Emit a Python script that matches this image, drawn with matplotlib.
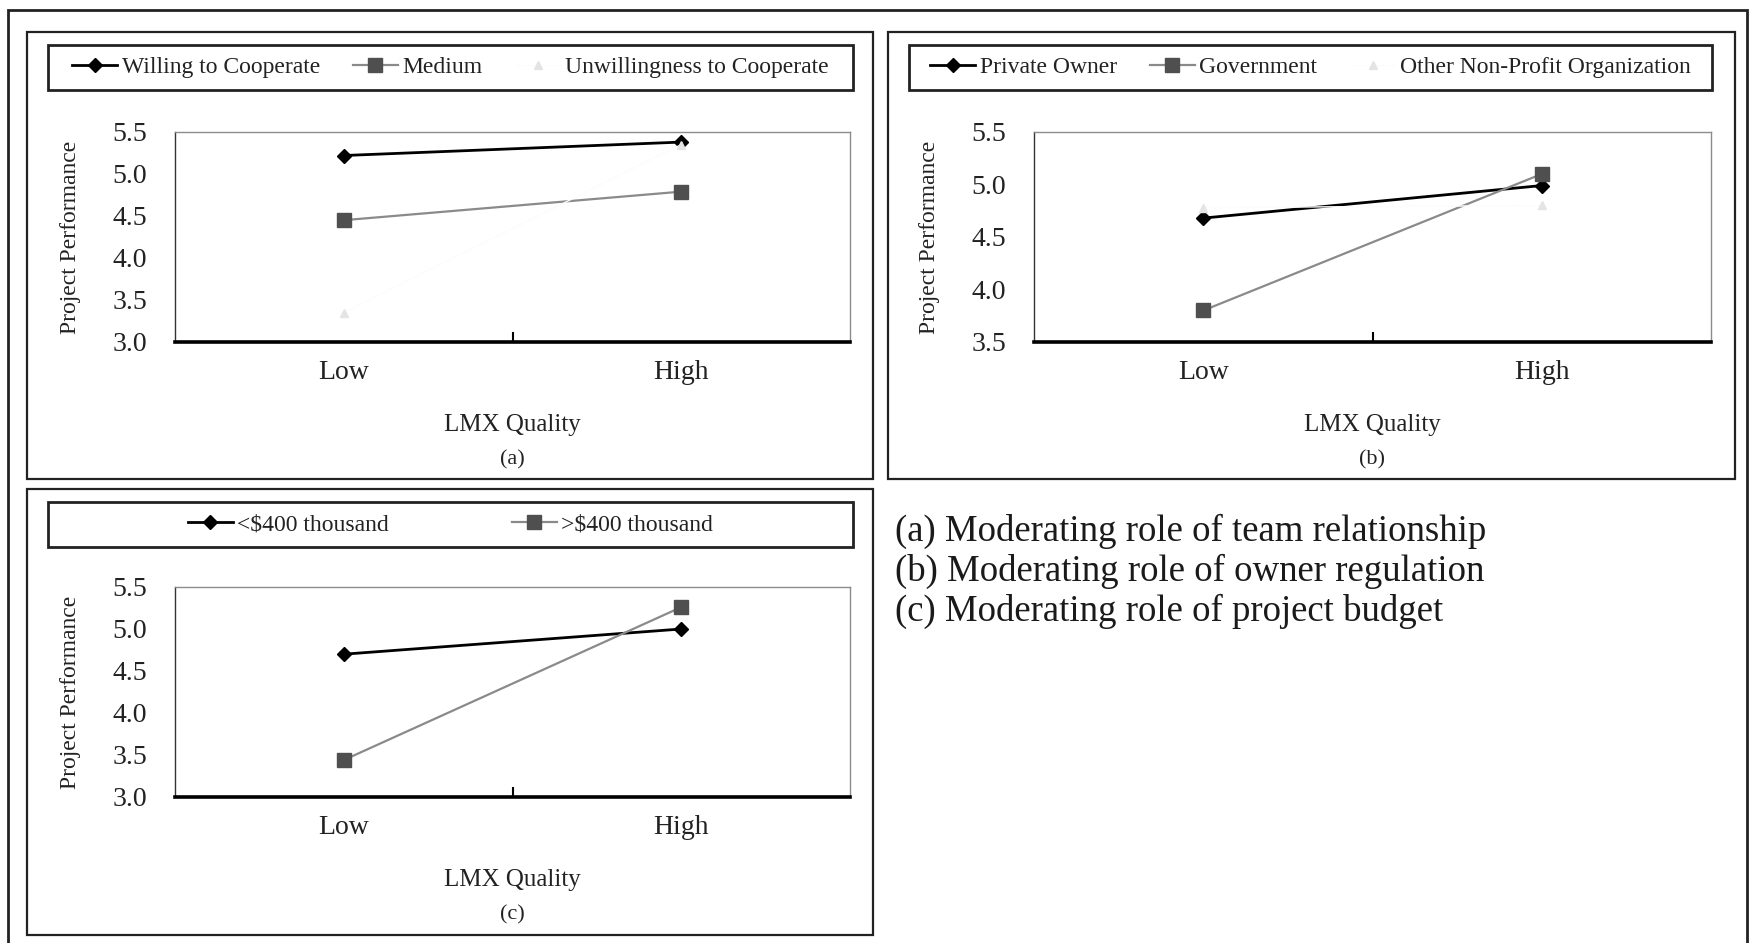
import matplotlib
matplotlib.use('Agg')
import matplotlib.pyplot as plt
from matplotlib.patches import Rectangle

plt.rcParams['font.family'] = ['Liberation Serif', 'DejaVu Serif']
plt.rcParams['text.color'] = '#222222'

# data
levels = ['Low', 'High']

team_labels = ['Willing to Cooperate', 'Medium', 'Unwillingness to Cooperate']
willing = [5.22, 5.38]
medium = [4.45, 4.79]
unwilling = [3.35, 5.35]

owner_labels = ['Private Owner', 'Government', 'Other Non-Profit Organization']
private_owner = [4.68, 4.99]
government = [3.80, 5.10]
non_profit = [4.78, 4.80]

budget_labels = ['<$400 thousand', '>$400 thousand']
under_400k = [4.70, 5.00]
over_400k = [3.44, 5.26]

notes = ['(a) Moderating role of team relationship',
         '(b) Moderating role of owner regulation',
         '(c) Moderating role of project budget']

W, H = 1755, 943
fig = plt.figure(figsize=(W / 100, H / 100), dpi=100)

# series styles: excel-ish black diamond, gray square, nearly invisible triangle
styles = [
    dict(color='black', lw=2.0, marker='D', ms=7, mfc='black', mec='black'),
    dict(color='#8a8a8a', lw=1.6, marker='s', ms=10.5, mfc='#4f4f4f', mec='#4f4f4f'),
    dict(color='#fcfcfc', lw=1.0, marker='^', ms=6, mfc='#e4e4e4', mec='#e4e4e4'),
]


def px_rect(x0, y0, x1, y1, **kw):
    # rectangle in pixel coords of the reference (y down)
    r = Rectangle((x0 / W, 1 - y1 / H), (x1 - x0) / W, (y1 - y0) / H,
                  transform=fig.transFigure, fill=False, **kw)
    fig.add_artist(r)


def panel(box, lbox, axbox, series, labels, ylim, tag, colspace):
    px_rect(*box, lw=1.6, edgecolor='#222222')
    px_rect(*lbox, lw=2.0, edgecolor='#222222')

    x0, y0, x1, y1 = axbox
    ax = fig.add_axes([x0 / W, 1 - y1 / H, (x1 - x0) / W, (y1 - y0) / H])
    handles = []
    for vals, st in zip(series, styles):
        h, = ax.plot(range(len(levels)), vals, **st)
        handles.append(h)

    ax.set_xlim(-0.5, 1.5)
    ax.set_ylim(*ylim)
    yt = [ylim[0] + 0.5 * i for i in range(int(round((ylim[1] - ylim[0]) / 0.5)) + 1)]
    ax.set_yticks(yt)
    ax.set_yticklabels(['%.1f' % v for v in yt], fontsize=20)
    ax.set_xticks(range(len(levels)))
    ax.set_xticklabels(levels, fontsize=20)
    ax.set_xticks([0.5], minor=True)
    ax.tick_params(axis='y', length=0, pad=20, colors='#222222')
    ax.tick_params(axis='x', which='major', length=0, pad=13, colors='#222222')
    ax.tick_params(axis='x', which='minor', direction='in', length=7, width=1.5, color='black')

    for s in ['top', 'right']:
        ax.spines[s].set_color('#8c8c8c')
        ax.spines[s].set_linewidth(1.0)
    ax.spines['left'].set_color('#333333')
    ax.spines['left'].set_linewidth(1.0)
    ax.spines['bottom'].set_color('black')
    ax.spines['bottom'].set_linewidth(2.6)

    ax.text(-0.155, 0.5, 'Project Performance', transform=ax.transAxes, rotation=90,
            ha='center', va='center', fontsize=17)
    ax.text(0.5, -0.395, 'LMX Quality', transform=ax.transAxes,
            ha='center', va='center', fontsize=18)
    ax.text(0.5, -0.56, tag, transform=ax.transAxes,
            ha='center', va='center', fontsize=16)

    lx0, ly0, lx1, ly1 = lbox
    fig.legend(handles, labels, loc='center',
               bbox_to_anchor=((lx0 + lx1) / 2 / W, 1 - (ly0 + ly1) / 2 / H),
               ncol=len(labels), frameon=False, fontsize=17,
               handlelength=1.9, handletextpad=0.2, columnspacing=colspace)
    return ax


panel((27, 32, 873, 479), (48, 45, 853, 90), (175, 132, 850, 342),
      [willing, medium, unwilling], team_labels, (3.0, 5.5), '(a)', 1.4)
panel((888, 32, 1735, 479), (909, 45, 1712, 90), (1034, 132, 1711, 342),
      [private_owner, government, non_profit], owner_labels, (3.5, 5.5), '(b)', 1.4)
panel((27, 489, 873, 935), (48, 502, 853, 547), (175, 587, 850, 797),
      [under_400k, over_400k], budget_labels, (3.0, 5.5), '(c)', 5.2)

# outer frame (bottom edge runs off the picture)
px_rect(8, 10, 1747, 960, lw=2.0, edgecolor='#222222')

for i, t in enumerate(notes):
    fig.text(895 / W, 1 - (531 + 40 * i) / H, t, fontsize=26.5,
             ha='left', va='center', color='#1a1a1a')

fig.savefig('out.png', dpi=100, facecolor='white')
